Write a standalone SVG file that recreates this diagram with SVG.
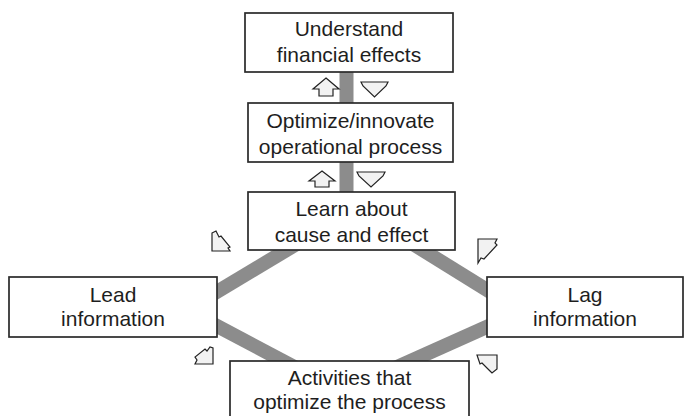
<svg xmlns="http://www.w3.org/2000/svg" width="687" height="416" viewBox="0 0 687 416">
<style>
.box{fill:#fff;stroke:#2a2a2a;stroke-width:1.7}
.t{font-family:"Liberation Sans",Arial,sans-serif;font-size:21px;fill:#1e1e1e;text-anchor:middle}
.band{stroke:#8c8c8c;stroke-width:14;fill:none}
.arr{fill:#f2f2f2;stroke:#222;stroke-width:1.2;stroke-linejoin:miter}
</style>
<rect width="687" height="416" fill="#fff"/>
<g id="connectors">
<line class="band" x1="346.5" y1="60" x2="346.5" y2="200"/>
<line class="band" x1="200" y1="302" x2="300" y2="242"/>
<line class="band" x1="400" y1="236" x2="500" y2="298"/>
<line class="band" x1="200" y1="317" x2="300" y2="370"/>
<line class="band" x1="395" y1="368" x2="500" y2="321"/>
<polygon class="arr" points="326,78 339,89 333,89 333,96 319,96 319,89 313,89"/>
<polygon class="arr" points="361,82 388,82 386,86 374.5,97 363,86"/>
<polygon class="arr" points="322,171 335,181 329,181 329,187 315,187 315,181 309,181"/>
<polygon class="arr" points="357,172 385,172 383,176 371,187 359,176"/>
<polygon class="arr" points="212,233 216,231 219,237 221,236 230,247 228,248 230,251 212,251"/>
<polygon class="arr" points="478,239 497,239 495,243 497,245 484,259 481,258 478,263"/>
<polygon class="arr" points="213,348 213,364 195,364 197,360 195,357 205,349 207,351 210,347"/>
<polygon class="arr" points="477,355 497,355 497,369 492,373 490,371 482,363 480,364 478,358"/>
</g>
<g id="understand">
<rect class="box" x="245" y="13" width="208" height="59"/>
<text class="t" x="349" y="36">Understand</text>
<text class="t" x="349" y="62">financial effects</text>
</g>
<g id="optimize">
<rect class="box" x="248" y="103" width="205" height="59"/>
<text class="t" x="350.5" y="128">Optimize/innovate</text>
<text class="t" x="350.5" y="154">operational process</text>
</g>
<g id="learn">
<rect class="box" x="248" y="192" width="207" height="58"/>
<text class="t" x="351.5" y="216">Learn about</text>
<text class="t" x="351.5" y="242">cause and effect</text>
</g>
<g id="lead">
<rect class="box" x="9" y="277" width="208" height="60"/>
<text class="t" x="113" y="302">Lead</text>
<text class="t" x="113" y="326">information</text>
</g>
<g id="lag">
<rect class="box" x="487" y="277" width="196" height="60"/>
<text class="t" x="585" y="302">Lag</text>
<text class="t" x="585" y="326">information</text>
</g>
<g id="activities">
<rect class="box" x="230" y="361" width="239" height="62"/>
<text class="t" x="349.5" y="385">Activities that</text>
<text class="t" x="349.5" y="409">optimize the process</text>
</g>
</svg>
